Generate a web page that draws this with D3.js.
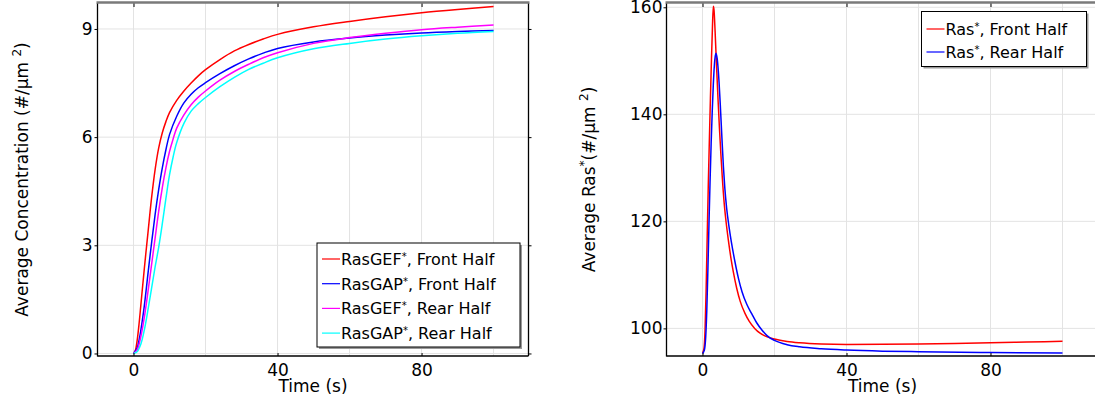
<!DOCTYPE html>
<html><head><meta charset="utf-8">
<script src="https://cdn.jsdelivr.net/npm/d3@7"></script>
<style>body{margin:0;background:#fff}svg{display:block;font-family:"DejaVu Sans",sans-serif}</style>
</head><body><svg id="c" width="1095" height="402"></svg>
<script>
// ---- Left chart data ----
const leftXTicks = [0, 40, 80];
const leftYTicks = [0, 3, 6, 9];
const leftXGrid = [0, 20, 40, 60, 80, 100];
const gefFrontT = [0,0.5,1,1.5,2,2.5,3,3.5,4,5,6,7,8,9,10,12,14,16,18,20,24,28,32,36,40,50,60,70,80,90,100];
const gefFrontV = [0,0.08,0.35,0.78,1.3,1.83,2.35,2.85,3.33,4.3,5.1,5.7,6.12,6.43,6.68,7.02,7.28,7.5,7.7,7.87,8.15,8.39,8.57,8.72,8.85,9.06,9.21,9.34,9.45,9.54,9.62];
const gapFrontT = [0,1,1.5,2,2.5,3,3.5,4,5,6,7,8,9,10,12,14,16,18,20,24,28,32,36,40,50,60,70,80,90,100];
const gapFrontV = [0,0.15,0.35,0.62,0.95,1.32,1.75,2.2,3.05,3.85,4.55,5.15,5.65,6.07,6.58,6.95,7.19,7.37,7.51,7.76,7.98,8.17,8.33,8.46,8.64,8.75,8.83,8.89,8.93,8.96];
const gefRearT = [0,1,2,3,4,5,6,7,8,9,10,11,12,14,16,18,20,24,28,32,36,40,50,60,70,80,90,100];
const gefRearV = [0,0.1,0.45,1.0,1.7,2.45,3.2,3.95,4.6,5.15,5.6,5.95,6.25,6.62,6.9,7.11,7.28,7.58,7.82,8.02,8.2,8.34,8.6,8.76,8.88,8.98,9.05,9.11];
const gapRearT = [0,1,2,3,4,5,6,7,8,9,10,11,12,14,16,18,20,24,28,32,36,40,50,60,70,80,90,100];
const gapRearV = [0,0.05,0.25,0.65,1.2,1.8,2.4,2.95,3.6,4.3,4.95,5.45,5.85,6.38,6.72,6.93,7.1,7.4,7.66,7.88,8.05,8.2,8.45,8.6,8.72,8.81,8.88,8.93];
const leftNames = ["RasGEF", "RasGAP", "RasGEF", "RasGAP"];
const leftSuffix = [", Front Half", ", Front Half", ", Rear Half", ", Rear Half"];
const leftColors = ["#ff0000", "#0000ff", "#ff00ff", "#00ffff"];

// ---- Right chart data ----
const rightXTicks = [0, 40, 80];
const rightYTicks = [100, 120, 140, 160];
const rightXGrid = [0, 20, 40, 60, 80, 100];
const rasFrontT = [0,0.4,0.7,1.0,1.3,1.6,1.9,2.2,2.5,2.75,3.0,3.2,3.5,3.9,4.3,4.7,5.1,5.5,6.0,6.5,7.2,8.0,8.6,9.5,10.5,11.8,13,14.5,16,17.8,20,23.5,27,33,40,50,60,70,80,90,100];
const rasFrontV = [95.4,96.2,99.5,107,117,126.5,135,143,150.5,156,160.2,159.5,155.5,149,143,137.5,132.6,128.2,123.6,120.2,116.4,112.7,110.4,107.5,105.0,102.8,101.3,100.0,99.1,98.45,98.0,97.55,97.3,97.08,97.0,97.02,97.08,97.18,97.3,97.45,97.6];
const rasRearT = [0,0.5,0.9,1.2,1.5,1.8,2.1,2.4,2.7,3.0,3.3,3.55,3.75,4.1,4.6,5.0,5.4,5.8,6.2,6.7,7.3,8,9,10,11,12.3,13.7,15,16.5,18,20,23.5,27,33,40,50,60,80,100];
const rasRearV = [95.3,95.9,98.5,103.5,111,119.5,127.5,134.5,140.5,145.5,149.2,150.9,151.4,150.3,146,141,135.5,130.3,126.2,122.5,119.3,116.2,112.5,109.3,106.8,104.5,102.7,101.1,99.7,98.6,97.75,96.95,96.55,96.2,95.96,95.75,95.64,95.5,95.4];
const rightNames = ["Ras", "Ras"];
const rightSuffix = [", Front Half", ", Rear Half"];
const rightColors = ["#ff0000", "#0000ff"];

const svg = d3.select("#c");
let clipId = 0;

function drawPlot(cfg) {
  const x = d3.scaleLinear().domain(cfg.xDomain).range(cfg.xRange);
  const y = d3.scaleLinear().domain(cfg.yDomain).range([356, 3]);
  const [x0, x1] = cfg.xRange;
  const g = svg.append("g");
  const id = "clip" + (clipId++);
  g.append("clipPath").attr("id", id).append("rect")
    .attr("x", x0).attr("y", 3).attr("width", x1 - x0).attr("height", 353);
  // grid
  g.selectAll(".gx").data(cfg.xGrid).join("line")
    .attr("x1", d => x(d)).attr("x2", d => x(d)).attr("y1", 3).attr("y2", 356)
    .attr("stroke", "#e3e3e3").attr("stroke-width", 1);
  g.selectAll(".gy").data(cfg.yTicks).join("line")
    .attr("x1", x0).attr("x2", x1).attr("y1", d => y(d)).attr("y2", d => y(d))
    .attr("stroke", "#e3e3e3").attr("stroke-width", 1);
  // lines
  const line = d3.line().x(d => x(d[0])).y(d => y(d[1])).curve(cfg.curve);
  const lg = g.append("g").attr("clip-path", `url(#${id})`);
  cfg.series.forEach((s, i) => {
    lg.append("path").datum(d3.zip(s.t, s.v)).attr("d", line)
      .attr("fill", "none").attr("stroke", cfg.colors[i]).attr("stroke-width", 1.5);
  });
  // axes using d3 axis
  const bottom = d3.axisBottom(x).tickValues(cfg.xTicks).tickSize(-3).tickPadding(8).tickFormat(d3.format("d"));
  const ba = g.append("g").attr("transform", "translate(0,356)").call(bottom);
  ba.select(".domain").remove();
  ba.selectAll(".tick line").attr("stroke", "#000");
  ba.selectAll("text").attr("font-size", 17).attr("fill", "#000").attr("font-family", "DejaVu Sans")
    .attr("dy", null).attr("y", 20);
  const top = d3.axisBottom(x).tickValues(cfg.xTicks).tickSize(4).tickFormat("");
  const ta = g.append("g").attr("transform", "translate(0,3)").call(top);
  ta.select(".domain").remove();
  const left = d3.axisLeft(y).tickValues(cfg.yTicks).tickSize(3).tickPadding(cfg.yPad).tickFormat(d3.format("d"));
  const la = g.append("g").attr("transform", `translate(${x0},0)`).call(left);
  la.select(".domain").remove();
  la.selectAll("text").attr("font-size", 17).attr("fill", "#000").attr("font-family", "DejaVu Sans");
  if (cfg.rightSpine) {
    const right = d3.axisRight(y).tickValues(cfg.yTicks).tickSize(3).tickFormat("");
    const ra = g.append("g").attr("transform", `translate(${x1},0)`).call(right);
    ra.select(".domain").remove();
    g.append("line").attr("x1", x1).attr("x2", x1).attr("y1", 3).attr("y2", 356)
      .attr("stroke", "#000").attr("stroke-width", 1.3);
  }
  // spines
  g.append("line").attr("x1", x0).attr("x2", x0).attr("y1", 3).attr("y2", 356.5)
    .attr("stroke", "#000").attr("stroke-width", 1.3);
  g.append("line").attr("x1", x0).attr("x2", x1).attr("y1", 356).attr("y2", 356)
    .attr("stroke", "#000").attr("stroke-width", 1.3);
  g.append("line").attr("x1", x0 - 1).attr("x2", x1 + 1).attr("y1", 2.5).attr("y2", 2.5)
    .attr("stroke", "#7a7a7a").attr("stroke-width", 2.5);
  // x title
  g.append("text").attr("x", cfg.xTitleX).attr("y", 392).attr("text-anchor", "middle")
    .attr("font-size", 17).text("Time (s)");
  // y title
  const yt = g.append("text").attr("transform", `translate(${cfg.yTitleX},179.5) rotate(-90)`)
    .attr("text-anchor", "middle").attr("font-size", 17);
  cfg.yTitle.forEach(p => {
    const ts = yt.append("tspan").text(p.t);
    if (p.sup) ts.attr("baseline-shift", "super").attr("font-size", 12);
  });
  // legend
  const L = cfg.legend;
  const leg = g.append("g");
  leg.append("rect").attr("x", L.x + 2).attr("y", L.y + 2).attr("width", L.w).attr("height", L.h)
    .attr("fill", "#9a9a9a");
  leg.append("rect").attr("x", L.x).attr("y", L.y).attr("width", L.w).attr("height", L.h)
    .attr("fill", "#fff").attr("stroke", "#000").attr("stroke-width", 1);
  cfg.names.forEach((n, i) => {
    const cy = L.y + L.first + i * L.step;
    leg.append("line").attr("x1", L.x + 5).attr("x2", L.x + 23).attr("y1", cy).attr("y2", cy)
      .attr("stroke", cfg.colors[i]).attr("stroke-width", 1.2);
    const t = leg.append("text").attr("x", L.x + 24).attr("y", cy + 6).attr("font-size", 16);
    t.append("tspan").text(n);
    t.append("tspan").text("*").attr("baseline-shift", "super").attr("font-size", 10);
    t.append("tspan").text(cfg.suffix[i]);
  });
}

drawPlot({
  xDomain: [-10, 109.7], xRange: [97.5, 528.5], yDomain: [-0.07, 9.72],
  xTicks: leftXTicks, yTicks: leftYTicks, xGrid: leftXGrid, yPad: 2,
  series: [{t: gefFrontT, v: gefFrontV}, {t: gapFrontT, v: gapFrontV}, {t: gefRearT, v: gefRearV}, {t: gapRearT, v: gapRearV}],
  colors: leftColors, names: leftNames, suffix: leftSuffix, rightSpine: true,
  curve: d3.curveCatmullRom.alpha(0.5),
  xTitleX: 313, yTitleX: 28,
  yTitle: [{t: "Average Concentration (#/μm "}, {t: "2", sup: true}, {t: ")"}],
  legend: {x: 317, y: 243, w: 203, h: 104, first: 16, step: 24.7}
});
drawPlot({
  xDomain: [-10, 110], xRange: [666.5, 1098.5], yDomain: [94.84, 160.8],
  xTicks: rightXTicks, yTicks: rightYTicks, xGrid: rightXGrid, yPad: 1,
  series: [{t: rasFrontT, v: rasFrontV}, {t: rasRearT, v: rasRearV}],
  colors: rightColors, names: rightNames, suffix: rightSuffix, rightSpine: false,
  curve: d3.curveMonotoneX,
  xTitleX: 882.5, yTitleX: 595,
  yTitle: [{t: "Average Ras"}, {t: "*", sup: true}, {t: "(#/μm "}, {t: "2", sup: true}, {t: ")"}],
  legend: {x: 921.5, y: 11.5, w: 165, h: 55, first: 17.5, step: 23}
});
</script></body></html>
